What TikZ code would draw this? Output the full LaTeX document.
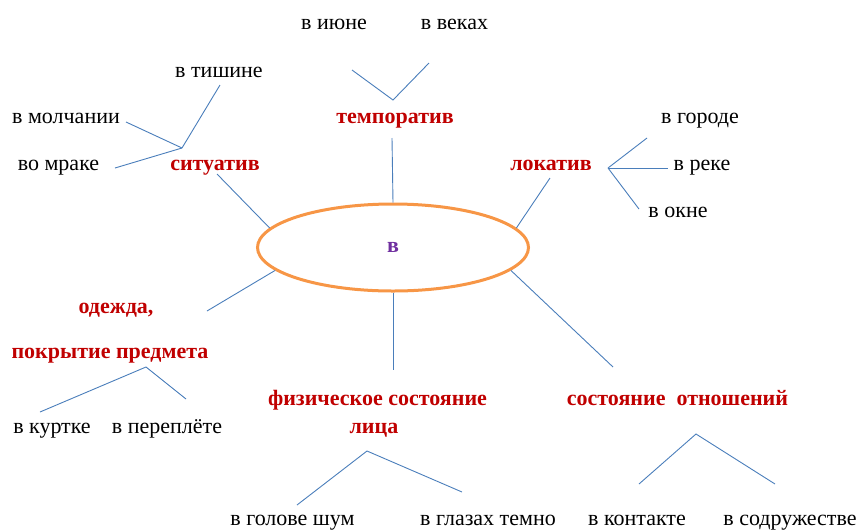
\documentclass[tikz,border=0pt]{standalone}
\usepackage{fontspec}
\setmainfont{Liberation Serif}
\usepackage{tikz}
\usetikzlibrary{shapes.geometric}
\definecolor{catred}{HTML}{C00000}
\definecolor{linkblue}{HTML}{4A7EBB}
\definecolor{ovalorange}{HTML}{F79646}
\definecolor{prepviolet}{HTML}{7030A0}

\begin{document}
\begin{tikzpicture}[x=1pt,y=-1pt,
  word/.style={inner sep=0pt,anchor=base,font=\fontsize{22}{26}\selectfont},
  cat/.style={word,text=catred,font=\fontsize{22}{26}\selectfont\bfseries},
  link/.style={draw=linkblue,line width=0.9pt},
  oval/.style={ellipse,draw=ovalorange,line width=3pt,minimum width=271pt,
    minimum height=87pt,inner sep=0pt,text=prepviolet,
    font=\fontsize{22}{26}\selectfont\bfseries}]
  \useasboundingbox (0,0) rectangle (857,531);
  % centre
  \node[oval] (V) at (393,247.5) {в};
  % categories
  \node[cat] (temp) at (395,123) {темпоратив};
  \node[cat] (sit) at (215,170) {ситуатив};
  \node[cat] (loc) at (551,170) {локатив};
  \node[cat] (cl1) at (116,313) {одежда,};
  \node[cat] (cl2) at (110,358) {покрытие предмета};
  \node[cat] (ph1) at (377.5,405) {физическое состояние};
  \node[cat] (ph2) at (374,433) {лица};
  \node[cat] (rel) at (677.5,405) {состояние\ \ отношений};
  % examples
  \node[word] (jun) at (334,29) {в июне};
  \node[word] (vek) at (454.5,29) {в веках};
  \node[word] (tish) at (219,77) {в тишине};
  \node[word] (molch) at (66,123) {в молчании};
  \node[word] (mrak) at (58.5,170) {во мраке};
  \node[word] (gor) at (700,123) {в городе};
  \node[word] (rek) at (702,170) {в реке};
  \node[word] (okn) at (678,217) {в окне};
  \node[word] (kurt) at (52,433) {в куртке};
  \node[word] (perepl) at (167,433) {в переплёте};
  \node[word] (golov) at (292.5,525) {в голове шум};
  \node[word] (glaz) at (488,525) {в глазах темно};
  \node[word] (kont) at (637,525) {в контакте};
  \node[word] (sodr) at (790,525) {в содружестве};
  % joints and free ends
  \coordinate (tj) at (393,100);
  \coordinate (tjl) at (352,70);
  \coordinate (tjr) at (429,63);
  \coordinate (ts) at (392,138);
  \coordinate (sj) at (182,148);
  \coordinate (sjt) at (220,85);
  \coordinate (sjm) at (126,122);
  \coordinate (sjb) at (115,168);
  \coordinate (ss) at (217,174);
  \coordinate (ls) at (550,178);
  \coordinate (lj) at (608,168);
  \coordinate (ljt) at (647,138);
  \coordinate (ljm) at (668,168);
  \coordinate (ljb) at (639,209);
  \coordinate (cs) at (207,311);
  \coordinate (cj) at (146,367);
  \coordinate (cjl) at (40,412);
  \coordinate (cjr) at (186,399);
  \coordinate (ps) at (393,370);
  \coordinate (pj) at (367,451);
  \coordinate (pjl) at (297,505);
  \coordinate (pjr) at (462,492);
  \coordinate (rs) at (613,367);
  \coordinate (rj) at (696,434);
  \coordinate (rjl) at (639,484);
  \coordinate (rjr) at (775,484);
  % connectors
  \draw[link] (tjl) -- (tj) -- (tjr);
  \draw[link] (ts) -- (V.north);
  \draw[link] (sjt) -- (sj); \draw[link] (sjm) -- (sj); \draw[link] (sjb) -- (sj);
  \draw[link] (ss) -- (V.171);
  \draw[link] (ls) -- (V.9);
  \draw[link] (lj) -- (ljt); \draw[link] (lj) -- (ljm); \draw[link] (lj) -- (ljb);
  \draw[link] (cs) -- (V.191);
  \draw[link] (cjl) -- (cj) -- (cjr);
  \draw[link] (V.south) -- (ps);
  \draw[link] (pjl) -- (pj) -- (pjr);
  \draw[link] (V.349) -- (rs);
  \draw[link] (rjl) -- (rj) -- (rjr);
\end{tikzpicture}
\end{document}
